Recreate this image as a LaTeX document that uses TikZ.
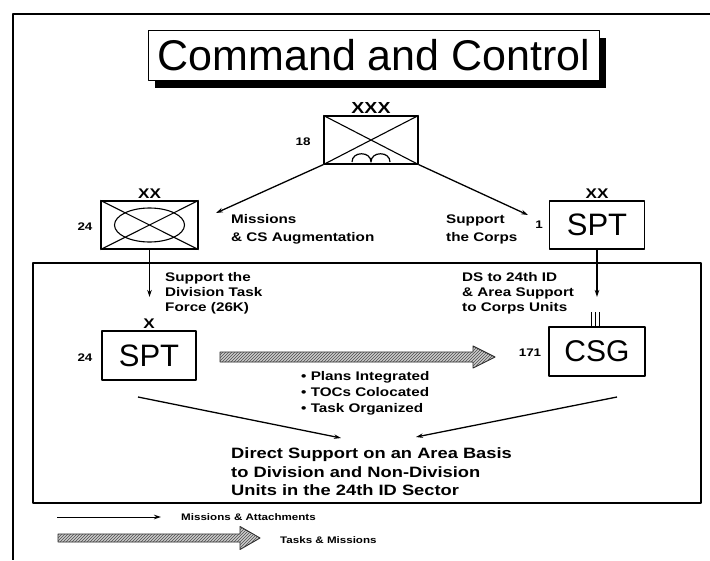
\documentclass[tikz,border=0pt]{standalone}
\usepackage{fontspec}
\setmainfont{Liberation Sans}
\newfontfamily\lblfont[FakeStretch=1.22]{Liberation Sans}
\usetikzlibrary{arrows.meta, patterns, shadows, calc}

\begin{document}
\begin{tikzpicture}[x=1pt, y=-1pt, line join=round,
  unitbox/.style={draw, line width=1.1pt, minimum width=94pt, minimum height=48pt, inner sep=0pt, font=\fontsize{31}{31}\selectfont},
  lbl/.style={font=\lblfont\bfseries\fontsize{12.5}{15}\selectfont, align=left, inner sep=0pt, anchor=west},
  num/.style={font=\lblfont\bfseries\fontsize{11}{11}\selectfont, inner sep=0pt},
  ech/.style={font=\lblfont\bfseries\fontsize{14}{14}\selectfont, inner sep=0pt, label distance=2pt},
  msn/.style={line width=1.3pt, -{Stealth[length=7pt, width=4.5pt]}},
  taskarrow/.style={draw=black!85, line width=0.9pt, fill=gray!40,
    postaction={pattern=north east lines, pattern color=black!70}},
]
\useasboundingbox (0,0) rectangle (710,560);
% frames
\draw[line width=1.3pt] (710,14) -- (13,14) -- (13,560);
\draw[line width=1.1pt] (33,263) rectangle (701,503);

% title
\node[draw, line width=1pt, fill=white, minimum width=451pt, minimum height=50pt,
  general shadow={fill=black, shadow xshift=6pt, shadow yshift=-8pt},
  font=\fontsize{43}{43}\selectfont] (title) at (374,55) {Command and Control};

% corps
\node[unitbox, label={[ech, font=\lblfont\bfseries\fontsize{16}{16}\selectfont]above:XXX}] (corps) at (371,140) {};
\draw[line width=1.1pt] (corps.north west) -- (corps.south east) (corps.north east) -- (corps.south west);
\draw[line width=1.2pt] (352,162) .. controls (352,151) and (371,151) .. (371,162)
  .. controls (371,151) and (390,151) .. (390,162);
\node[num] (n18) at (303,142) {18};

% division
\node[unitbox, minimum width=97pt, label={[ech]above:XX}] (div) at (149.5,225) {};
\draw[line width=1.1pt] (div.north west) -- (div.south east) (div.north east) -- (div.south west);
\draw[line width=1.1pt] (div.center) ellipse [x radius=35pt, y radius=17pt];
\node[num] (n24a) at (85,227) {24};

% corps support
\node[unitbox, minimum width=95pt, label={[ech]above:XX}] (sptc) at (597,225) {SPT};
\node[num] (n1) at (539,225) {1};

% div support / CSG
\node[unitbox, minimum height=49pt, label={[ech]above:X}] (spt) at (149,355.5) {SPT};
\node[num] (n24b) at (85,358) {24};
\node[unitbox, minimum width=96pt, minimum height=49pt, font=\fontsize{30}{30}\selectfont] (csg) at (597,351.5) {CSG};
\foreach \dx in {-6,-2,2}
  \draw[line width=1pt] ($(csg.north)+(\dx,0)$) -- ++(0,-14);
\node[num] (n171) at (530,353) {171};

% missions
\coordinate (msnend) at (216,213);
\coordinate (corpsend) at (528,215);
\coordinate (divend) at (149.5,297);
\coordinate (sptcend) at (597,297);
\draw[msn] (corps.south west) -- (msnend);
\draw[msn] (corps.south east) -- (corpsend);
\draw[msn] (div.south) -- (divend);
\draw[msn] (sptc.south) -- (sptcend);

\node[lbl, font=\lblfont\bfseries\fontsize{12.5}{18}\selectfont] (msnlbl) at (231,229) {Missions\\\& CS Augmentation};
\node[lbl, font=\lblfont\bfseries\fontsize{12.5}{18}\selectfont] (corpslbl) at (446,229) {Support\\the Corps};
\node[lbl] (divlbl) at (165,293) {Support the\\Division Task\\Force (26K)};
\node[lbl] (dslbl) at (462,293) {DS to 24th ID\\\& Area Support\\to Corps Units};

% tasks
\coordinate (ta) at (220,357);
\coordinate (tb) at (495,357);
\draw[taskarrow] ($(ta)+(0,-5)$) -- ($(tb)+(-22,-5)$) -- ($(tb)+(-22,-11)$) -- (tb)
  -- ($(tb)+(-22,11)$) -- ($(tb)+(-22,5)$) -- ($(ta)+(0,5)$) -- cycle;
\node[lbl, font=\lblfont\bfseries\fontsize{12.5}{16}\selectfont] (bullets) at (301,393)
  {\textbullet{} Plans Integrated\\\textbullet{} TOCs Colocated\\\textbullet{} Task Organized};

% area support
\node[lbl, font=\lblfont\bfseries\fontsize{15}{18.5}\selectfont] (direct) at (231,472)
  {Direct Support on an Area Basis\\to Division and Non-Division\\Units in the 24th ID Sector};
\coordinate (ls) at (138,397);
\coordinate (lend) at (341,438);
\coordinate (rs) at (617,397);
\coordinate (rend) at (416,437);
\draw[msn] (ls) -- (lend);
\draw[msn] (rs) -- (rend);

% legend
\coordinate (lga) at (57,517);
\coordinate (lgb) at (161,517);
\draw[msn, line width=1pt] (lga) -- (lgb);
\node[lbl, font=\lblfont\bfseries\fontsize{9.5}{11}\selectfont] (lgmsn) at (181,517) {Missions \& Attachments};
\coordinate (lgta) at (58,538);
\coordinate (lgtb) at (260,538);
\draw[taskarrow] ($(lgta)+(0,-4)$) -- ($(lgtb)+(-20,-4)$) -- ($(lgtb)+(-20,-11.5)$) -- (lgtb)
  -- ($(lgtb)+(-20,11.5)$) -- ($(lgtb)+(-20,4)$) -- ($(lgta)+(0,4)$) -- cycle;
\node[lbl, font=\lblfont\bfseries\fontsize{9.5}{11}\selectfont] (lgtxt) at (280,540) {Tasks \& Missions};
\end{tikzpicture}
\end{document}
